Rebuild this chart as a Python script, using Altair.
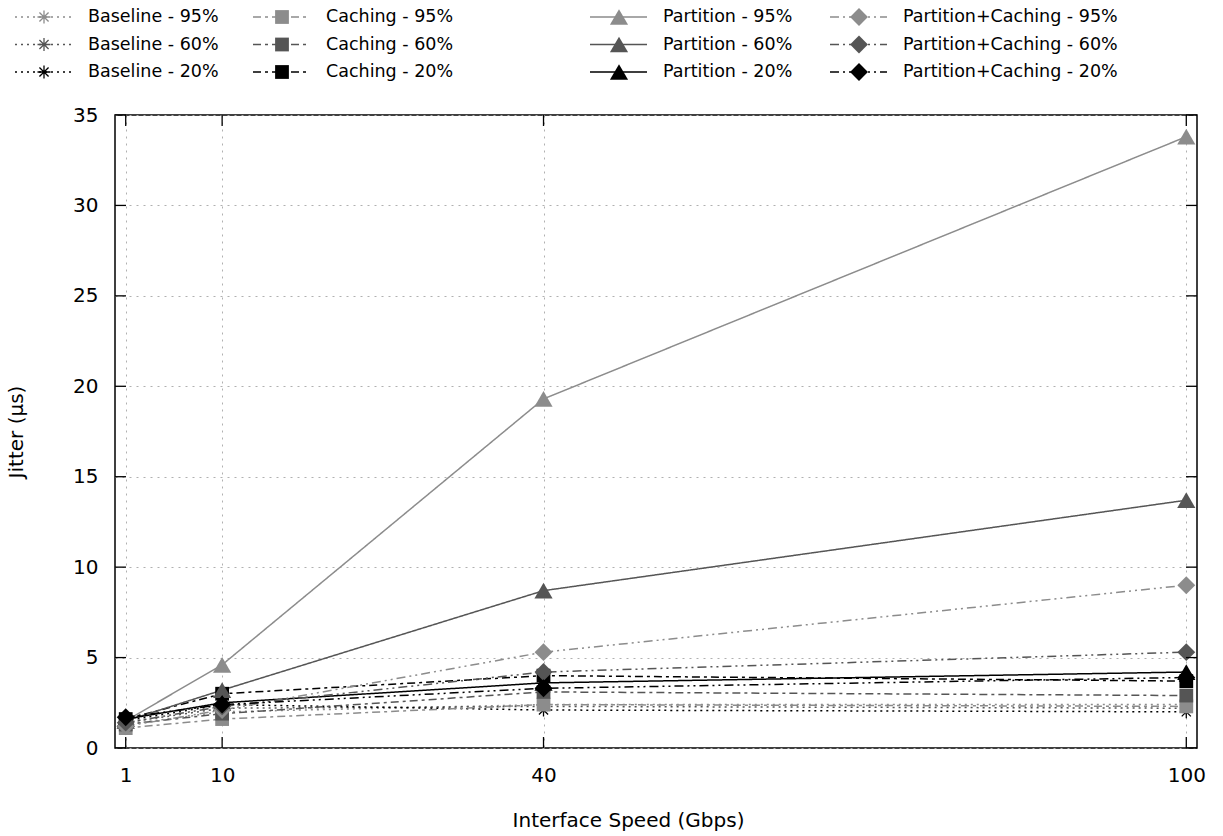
import altair as alt
import pandas as pd

# Interface speeds (Gbps) on the x axis
speeds = [1, 10, 40, 100]

# Jitter (µs) per configuration and load level
baseline_95 = [1.3, 2.0, 2.4, 2.4]
baseline_60 = [1.4, 2.2, 2.3, 2.2]
baseline_20 = [1.5, 2.4, 2.1, 2.0]
caching_95 = [1.1, 1.6, 2.4, 2.3]
caching_60 = [1.3, 1.9, 3.1, 2.9]
caching_20 = [1.6, 3.0, 4.0, 3.7]
partition_95 = [1.5, 4.6, 19.3, 33.8]
partition_60 = [1.5, 3.2, 8.7, 13.7]
partition_20 = [1.6, 2.5, 3.6, 4.2]
pc_95 = [1.2, 2.1, 5.3, 9.0]
pc_60 = [1.4, 2.3, 4.2, 5.3]
pc_20 = [1.7, 2.4, 3.3, 3.9]

methods = ["Baseline", "Caching", "Partition", "Partition+Caching"]
loads = ["95%", "60%", "20%"]
series_values = [
    [baseline_95, baseline_60, baseline_20],
    [caching_95, caching_60, caching_20],
    [partition_95, partition_60, partition_20],
    [pc_95, pc_60, pc_20],
]

x_ticks = [1, 10, 40, 100]
y_ticks = [0, 5, 10, 15, 20, 25, 30, 35]

# styling per method / load
load_colors = {"95%": "#8c8c8c", "60%": "#555555", "20%": "#000000"}
method_dash = {
    "Baseline": [2, 4],
    "Caching": [8, 4, 3, 4],
    "Partition": [1, 0],
    "Partition+Caching": [9, 4, 2, 4, 2, 4],
}
asterisk = "M-1,0L1,0M0,-1L0,1M-0.7,-0.7L0.7,0.7M-0.7,0.7L0.7,-0.7"
method_shape = {
    "Baseline": asterisk,
    "Caching": "square",
    "Partition": "triangle-up",
    "Partition+Caching": "diamond",
}
method_size = {"Baseline": 170, "Caching": 190, "Partition": 330, "Partition+Caching": 320}

names, colors, dashes = [], [], []
rows = []
legend_rows = []
for mi, m in enumerate(methods):
    for li, ld in enumerate(loads):
        name = f"{m} - {ld}"
        names.append(name)
        colors.append(load_colors[ld])
        dashes.append(method_dash[m])
        legend_rows.append({"series": name, "method": m, "col": mi, "row": li})
        for s, v in zip(speeds, series_values[mi][li]):
            rows.append({"series": name, "method": m, "speed": s, "jitter": v})

df = pd.DataFrame(rows)
legend_df = pd.DataFrame(legend_rows)

color_scale = alt.Scale(domain=names, range=colors)
dash_scale = alt.Scale(domain=names, range=dashes)

W, H = 1082, 633
FONT = "DejaVu Sans"

x_scale = alt.Scale(domain=[0, 101], nice=False, zero=False)
y_scale = alt.Scale(domain=[0, 35], nice=False)

common_axis = dict(
    grid=True, gridDash=[2, 5], gridColor="#b0b0b0", gridWidth=1, domain=False,
    ticks=False, labelPadding=17, labelFontSize=20, labelFont=FONT,
    labelColor="black", titleFontSize=20, titleFont=FONT,
    titleFontWeight="normal", titleColor="black",
)
x_axis = alt.Axis(values=x_ticks, title="Interface Speed (Gbps)", titlePadding=25,
                  titleX=513, **common_axis)
y_axis = alt.Axis(values=y_ticks, title="Jitter (µs)", titlePadding=46, **common_axis)

X = alt.X("speed:Q", scale=x_scale, axis=x_axis)
Y = alt.Y("jitter:Q", scale=y_scale, axis=y_axis)
COLOR = alt.Color("series:N", scale=color_scale, legend=None)

base = alt.Chart(df)

lines = base.mark_line(strokeWidth=1.5).encode(
    x=X, y=Y, color=COLOR,
    strokeDash=alt.StrokeDash("series:N", scale=dash_scale, legend=None),
    detail="series:N",
)

# one marker layer per method, each with its own glyph and size
point_layers = []
for m in methods:
    if m == "Baseline":
        mk = dict(filled=False, strokeWidth=1.3)
    else:
        mk = dict(filled=True)
    point_layers.append(
        base.transform_filter(alt.datum.method == m).mark_point(
            shape=method_shape[m], size=method_size[m], opacity=1, **mk
        ).encode(x=X, y=Y, color=COLOR)
    )

# inward ticks on all four sides of the frame
xt = pd.DataFrame({"speed": x_ticks})
yt = pd.DataFrame({"jitter": y_ticks})
TL = 11
tick_style = dict(color="black", strokeWidth=1.3)
x_bottom = alt.Chart(xt).mark_rule(**tick_style).encode(
    x=X, y=alt.value(H), y2=alt.value(H - TL))
x_top = alt.Chart(xt).mark_rule(**tick_style).encode(
    x=X, y=alt.value(0), y2=alt.value(TL))
y_left = alt.Chart(yt).mark_rule(**tick_style).encode(
    y=Y, x=alt.value(0), x2=alt.value(TL))
y_right = alt.Chart(yt).mark_rule(**tick_style).encode(
    y=Y, x=alt.value(W - TL), x2=alt.value(W))

main = alt.layer(lines, *point_layers, x_bottom, x_top, y_left, y_right).properties(
    width=W, height=H,
    view=alt.ViewBackground(stroke="black", strokeWidth=1.5),
)

# key: four columns of three entries each
lx_scale = alt.Scale(domain=[0, 1, 2, 3], range=[-100, 138, 475, 715], nice=False, zero=False)
ly_scale = alt.Scale(domain=[0, 2], range=[17, 72], nice=False, zero=False)
LX = alt.X("col:Q", scale=lx_scale, axis=None)
LY = alt.Y("row:Q", scale=ly_scale, axis=None)
lbase = alt.Chart(legend_df)
key_lines = lbase.mark_rule(strokeWidth=1.5, x2Offset=57).encode(
    x=LX, x2="col:Q", y=LY, color=COLOR,
    strokeDash=alt.StrokeDash("series:N", scale=dash_scale, legend=None),
)
key_points = []
for m in methods:
    if m == "Baseline":
        mk = dict(filled=False, strokeWidth=1.3)
    else:
        mk = dict(filled=True)
    key_points.append(
        lbase.transform_filter(alt.datum.method == m).mark_point(
            shape=method_shape[m], size=method_size[m], opacity=1, xOffset=29, **mk
        ).encode(x=LX, y=LY, color=COLOR)
    )
key_text = lbase.mark_text(
    align="left", baseline="middle", dx=73, fontSize=17.5, font=FONT, color="black"
).encode(x=LX, y=LY, text="series:N")
key = alt.layer(key_lines, *key_points, key_text).properties(
    width=W, height=104,
    view=alt.ViewBackground(stroke="transparent", strokeWidth=0),
)

chart = alt.vconcat(key, main, spacing=0).properties(
    padding={"left": 5, "top": 0, "right": 0, "bottom": 0},
).configure(font=FONT)

chart.save("out.html", embed_options={"renderer": "svg", "actions": False})
